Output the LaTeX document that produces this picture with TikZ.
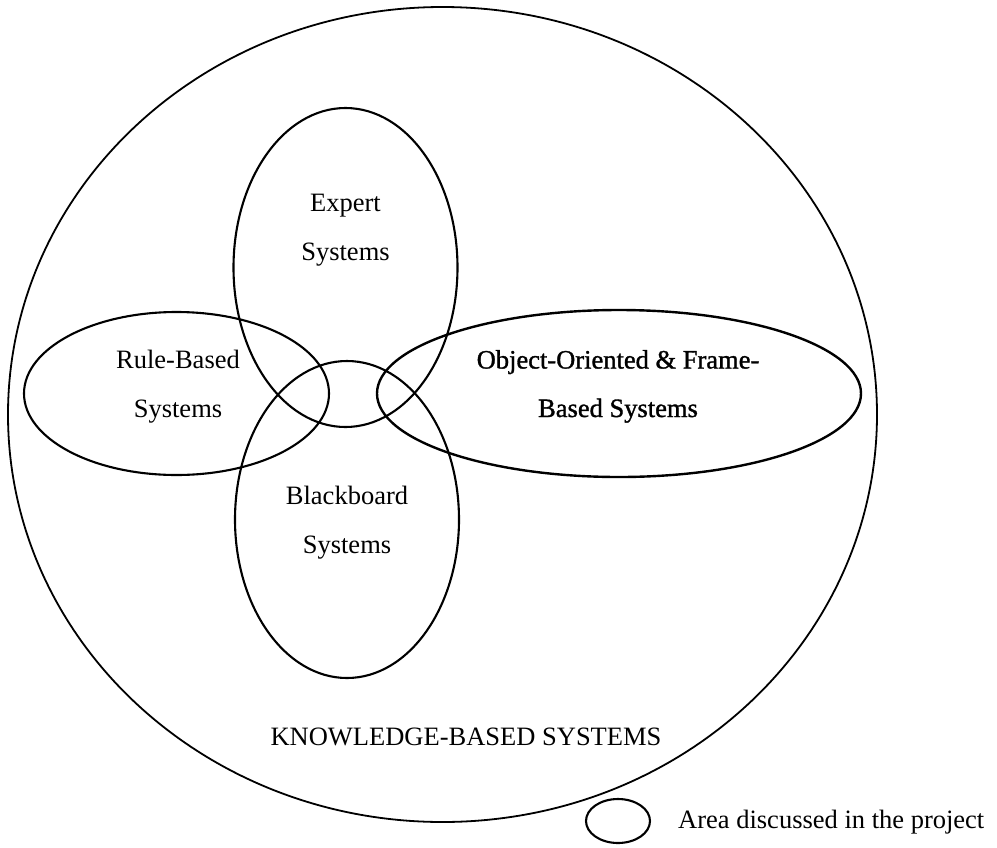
\documentclass[tikz,border=0pt]{standalone}
\usepackage{fontspec}
\setmainfont{Liberation Serif}
\newfontfamily\darkserif{Liberation Serif}[FakeBold=1.2]
\usetikzlibrary{shapes.geometric}
\begin{document}
\begin{tikzpicture}[x=1pt,y=-1pt,
  region/.style={draw=black, ellipse, line width=2.1pt, inner sep=0pt, outer sep=0pt},
  % base anchor of a two-line label sits on its last line
  lbl/.style={align=center, inner sep=0pt, anchor=base,
    font=\fontsize{26.5}{48.5}\selectfont}]
\useasboundingbox (0,0) rectangle (997,847);

% outer domain
\node[region, line width=1.8pt, minimum width=869pt, minimum height=815pt] (kbs) at (442.5,414.5) {};

% the four overlapping areas
\node[region, minimum width=224pt, minimum height=319pt] (expert) at (345.5,267.5) {};
\node[region, minimum width=305pt, minimum height=163pt] (rule) at (176.5,393.5) {};
\node[region, line width=2.4pt, minimum width=484pt, minimum height=167pt] (oo) at (619,393.5) {};
\node[region, minimum width=224pt, minimum height=317pt] (bb) at (347,519.5) {};

% labels
\node[lbl] (expertT) at (345.5,260) {Expert\\Systems};
\node[lbl] (ruleT) at (178,417) {Rule-Based\\Systems};
\node[lbl, font=\darkserif\fontsize{26.5}{48.5}\selectfont] (ooT) at (618,417) {Object-Oriented \& Frame-\\Based Systems};
\node[lbl] (bbT) at (347,553) {Blackboard\\Systems};
\node[lbl] (kbsT) at (466,745) {KNOWLEDGE-BASED SYSTEMS};

% legend
\node[region, minimum width=64pt, minimum height=44pt] (key) at (618,821) {};
\node[lbl, anchor=base west] (keyT) at (678,828) {Area discussed in the project};
\end{tikzpicture}
\end{document}
